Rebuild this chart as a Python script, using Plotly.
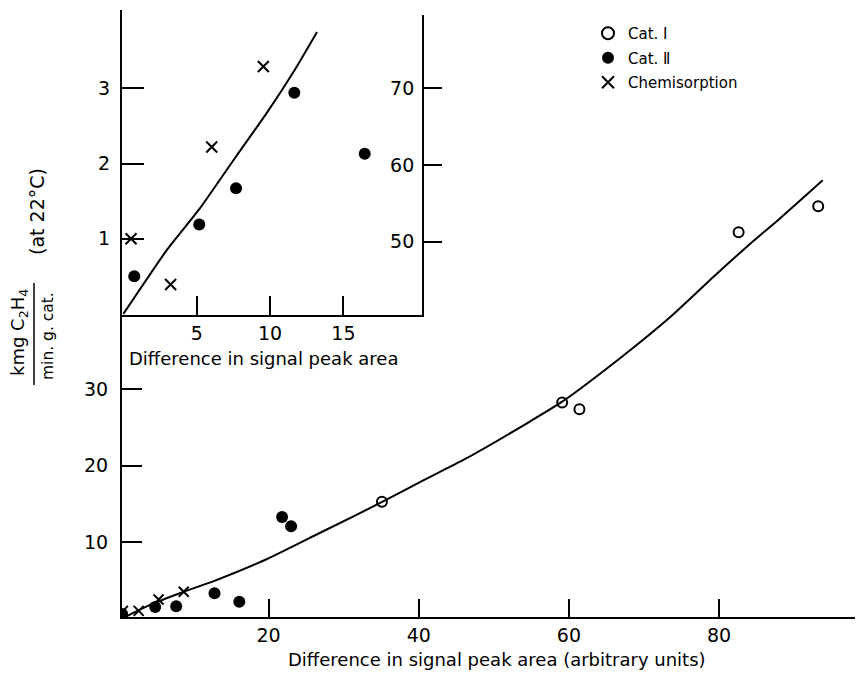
import plotly.graph_objects as go

# ---------------- data (main plot) ----------------
cat1_x = [35.1, 59.1, 61.4, 82.6, 93.2]
cat1_y = [15.3, 28.3, 27.4, 50.6, 54.0]

cat2_x = [0.5, 4.9, 7.7, 12.8, 16.1, 21.8, 23.0]
cat2_y = [0.6, 1.5, 1.6, 3.3, 2.2, 13.3, 12.1]

chem_x = [0.6, 2.7, 5.35, 8.7]
chem_y = [1.0, 1.0, 2.5, 3.5]

curve_x = [0.5, 4.0, 8.7, 12.7, 19.8, 27.0, 35.0, 40.6, 46.0, 54.8, 59.1, 66.8, 73.5, 79.3, 83.7, 88.1, 93.8]
curve_y = [0.0, 1.7, 3.5, 4.9, 7.8, 11.3, 15.2, 18.1, 20.8, 25.8, 28.4, 34.1, 39.5, 44.8, 48.7, 52.4, 57.4]

# ---------------- data (inset) ----------------
in_cat2_x = [0.74, 5.17, 7.68, 11.65, 16.45]
in_cat2_y = [0.50, 1.19, 1.67, 2.94, 2.13]

in_chem_x = [0.52, 3.22, 6.02, 9.54]
in_chem_y = [1.00, 0.39, 2.22, 3.29]

in_line_x = [0.0, 3.0, 5.2, 7.7, 9.8, 11.6, 13.2]
in_line_y = [0.0, 0.86, 1.40, 2.10, 2.68, 3.22, 3.75]

main_xticks = [20, 40, 60, 80]
main_yticks = [10, 20, 30]
inset_xticks = [5, 10, 15]
inset_yticks = [1, 2, 3]
inset_right_ticks = [50, 60, 70]

series_names = ["Cat. Ⅰ", "Cat. Ⅱ", "Chemisorption"]

FONT = "DejaVu Sans"
BLACK = "black"

W, H = 862, 686
ML, MR, MT, MB = 122, 7, 10, 69
PW, PH = W - ML - MR, H - MT - MB


def px(x):
    return (x - ML) / PW


def py(y):
    return (H - MB - y) / PH


fig = go.Figure()

# main traces
fig.add_trace(go.Scatter(x=curve_x, y=curve_y, mode="lines",
                         line=dict(color=BLACK, width=2, shape="spline", smoothing=0.6),
                         showlegend=False, hoverinfo="skip"))
fig.add_trace(go.Scatter(x=cat1_x, y=cat1_y, mode="markers", legendgroup="a", name=series_names[0],
                         marker=dict(symbol="circle-open", size=10, color=BLACK, line=dict(width=2))))
fig.add_trace(go.Scatter(x=cat2_x, y=cat2_y, mode="markers", legendgroup="b", name=series_names[1],
                         marker=dict(symbol="circle", size=12, color=BLACK)))
fig.add_trace(go.Scatter(x=chem_x, y=chem_y, mode="markers", legendgroup="c", name=series_names[2],
                         marker=dict(symbol="x-thin", size=10, color=BLACK, line=dict(width=2, color=BLACK))))

# inset traces
fig.add_trace(go.Scatter(x=in_line_x, y=in_line_y, mode="lines", xaxis="x2", yaxis="y2",
                         line=dict(color=BLACK, width=2, shape="spline", smoothing=0.5),
                         showlegend=False, hoverinfo="skip"))
fig.add_trace(go.Scatter(x=in_cat2_x, y=in_cat2_y, mode="markers", xaxis="x2", yaxis="y2",
                         marker=dict(symbol="circle", size=12, color=BLACK), showlegend=False))
fig.add_trace(go.Scatter(x=in_chem_x, y=in_chem_y, mode="markers", xaxis="x2", yaxis="y2",
                         marker=dict(symbol="x-thin", size=11, color=BLACK, line=dict(width=2, color=BLACK)),
                         showlegend=False))
# invisible trace carrying the right-hand inset axis
fig.add_trace(go.Scatter(x=[None], y=[None], xaxis="x2", yaxis="y3", showlegend=False, hoverinfo="skip"))

tickfont = dict(family=FONT, size=19, color=BLACK)
titlefont = dict(family=FONT, size=18, color=BLACK)

inset_dom_x = [0, px(421.5)]
inset_dom_y = [py(315.3), py(15)]

fig.update_layout(
    width=W, height=H, autosize=False,
    margin=dict(l=ML, r=MR, t=MT, b=MB),
    paper_bgcolor="white", plot_bgcolor="white",
    font=dict(family=FONT, color=BLACK),
    xaxis=dict(range=[0.48, 98.1], domain=[0, 1], showgrid=False, zeroline=False,
               showline=True, linecolor=BLACK, linewidth=2,
               tickvals=main_xticks, ticks="inside", ticklen=18, tickwidth=2, tickcolor=BLACK,
               tickfont=tickfont, ticklabelstandoff=0),
    yaxis=dict(range=[0.2, 79.7], domain=[0, 1], showgrid=False, zeroline=False,
               showline=True, linecolor=BLACK, linewidth=2,
               tickvals=main_yticks, ticks="inside", ticklen=20, tickwidth=2, tickcolor=BLACK,
               tickfont=tickfont, ticklabelstandoff=8),
    xaxis2=dict(range=[-0.095, 20.32], domain=inset_dom_x, anchor="y2", showgrid=False, zeroline=False,
                showline=True, linecolor=BLACK, linewidth=2,
                tickvals=inset_xticks, ticks="inside", ticklen=19, tickwidth=2, tickcolor=BLACK,
                tickfont=tickfont, ticklabelstandoff=0),
    yaxis2=dict(range=[-0.019, 3.975], domain=inset_dom_y, anchor="x2", showgrid=False, zeroline=False,
                showline=False,
                tickvals=inset_yticks, ticks="inside", ticklen=22, tickwidth=2, tickcolor=BLACK,
                tickfont=tickfont, ticklabelstandoff=11),
    yaxis3=dict(range=[40.4, 79.56], domain=inset_dom_y, anchor="x2", overlaying="y2", side="right",
                showgrid=False, zeroline=False, showline=True, linecolor=BLACK, linewidth=2,
                tickvals=inset_right_ticks, ticks="outside", ticklen=18, tickwidth=2, tickcolor=BLACK,
                ticklabelposition="inside", ticklabelstandoff=8, tickfont=tickfont),
    legend=dict(x=px(588), y=py(17), xanchor="left", yanchor="top", traceorder="grouped",
                bgcolor="rgba(0,0,0,0)", font=dict(family=FONT, size=15, color=BLACK),
                itemsizing="constant", tracegroupgap=2),
    showlegend=True,
)

# main x-axis title
fig.add_annotation(xref="paper", yref="paper", x=px(497), y=py(659),
                   text="Difference in signal peak area (arbitrary units)", showarrow=False, font=titlefont,
                   xanchor="center", yanchor="middle")
# inset x-axis title, placed under the inset axis
fig.add_annotation(xref="paper", yref="paper", x=px(263), y=py(358),
                   text="Difference in signal peak area", showarrow=False, font=titlefont,
                   xanchor="center", yanchor="middle")

# y-axis title built as a fraction
fig.add_annotation(xref="paper", yref="paper", x=px(19), y=py(333), text="kmg C<sub>2</sub>H<sub>4</sub>",
                   textangle=-90, showarrow=False, font=dict(family=FONT, size=18, color=BLACK),
                   xanchor="center", yanchor="middle")
fig.add_annotation(xref="paper", yref="paper", x=px(48), y=py(336), text="min. g. cat.",
                   textangle=-90, showarrow=False, font=dict(family=FONT, size=15.5, color=BLACK),
                   xanchor="center", yanchor="middle")
fig.add_annotation(xref="paper", yref="paper", x=px(37), y=py(212), text="(at 22°C)",
                   textangle=-90, showarrow=False, font=dict(family=FONT, size=19, color=BLACK),
                   xanchor="center", yanchor="middle")
fig.add_shape(type="line", xref="paper", yref="paper", x0=px(34), x1=px(34), y0=py(283), y1=py(385),
              line=dict(color=BLACK, width=1.5))

fig.write_html("out.html", config={"displayModeBar": False},
               post_script="document.body.style.margin='0px';document.body.style.overflow='hidden';")
